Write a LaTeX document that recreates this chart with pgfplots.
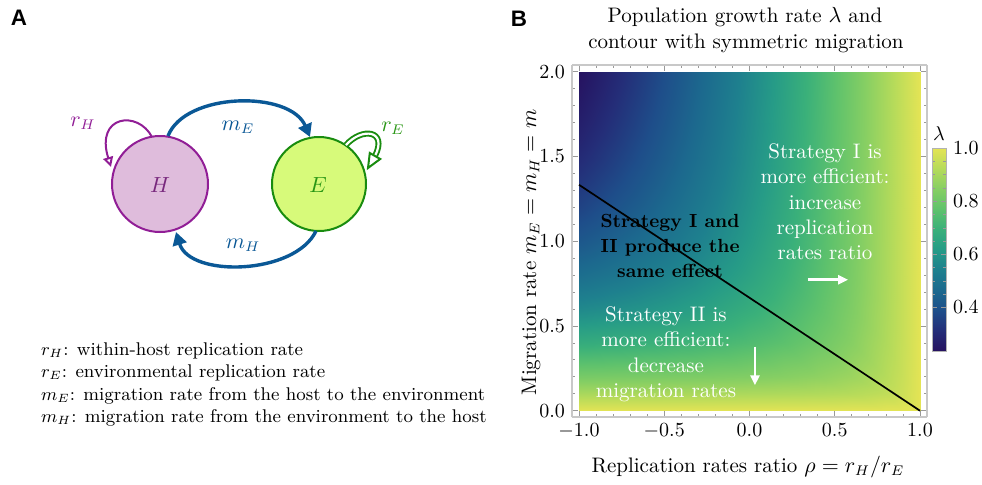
\documentclass[border=0pt]{standalone}
\usepackage{fontspec}
\usepackage{pgfplots}
\pgfplotsset{compat=1.18}
\usetikzlibrary{arrows.meta}
\newfontfamily\arialfont{Liberation Sans}
\definecolor{hfill}{RGB}{223,188,220}
\definecolor{hline}{RGB}{145,30,150}
\definecolor{htext}{RGB}{120,40,125}
\definecolor{efill}{RGB}{215,250,122}
\definecolor{eline}{RGB}{25,140,15}
\definecolor{etext}{RGB}{40,150,20}
\definecolor{arrblue}{RGB}{10,88,150}
\definecolor{framegray}{RGB}{200,200,200}
\pgfplotsset{colormap={mma}{rgb255(0)=(38,18,96) rgb255(10)=(36,45,120) rgb255(20)=(30,78,138) rgb255(30)=(28,105,142) rgb255(40)=(30,128,142) rgb255(50)=(38,155,135) rgb255(60)=(58,176,122) rgb255(70)=(95,194,108) rgb255(80)=(135,207,99) rgb255(90)=(182,219,90) rgb255(100)=(228,228,85)}}

\begin{document}
\begin{tikzpicture}
\useasboundingbox (0,0) rectangle (491pt,-242pt);

% ---------------- Panel B ----------------
\begin{axis}[
  at={(374.75pt,-120.5pt)}, anchor=center,
  scale only axis, width=177.5pt, height=176pt,
  view={0}{90},
  xmin=-1.041, xmax=1.041, ymin=-0.037, ymax=2.04,
  zmin=0, zmax=1.2, ztick=\empty,
  xtick={-1,-0.5,0,0.5,1}, ytick={0,0.5,1,1.5,2},
  minor tick num=4,
  tick align=inside,
  major tick length=3pt, minor tick length=1.5pt,
  axis line style={framegray, line width=0.6pt},
  tick style={gray!80, line width=0.4pt},
  xticklabel style={/pgf/number format/fixed, /pgf/number format/fixed zerofill, /pgf/number format/precision=1},
  yticklabel style={/pgf/number format/fixed, /pgf/number format/fixed zerofill, /pgf/number format/precision=1},
  colormap name=mma,
  point meta min=0.236, point meta max=1,
  colorbar,
  colorbar style={
    at={(parent axis.north east)}, anchor=north west,
    xshift=-6pt, yshift=-41.5pt,
    scale only axis, width=7pt, height=101.5pt,
    ytick={0.4,0.6,0.8,1.0},
    minor y tick num=3,
    yticklabel style={/pgf/number format/fixed, /pgf/number format/fixed zerofill, /pgf/number format/precision=1},
    axis line style={gray!60},
    tick style={gray!80},
    major tick length=2.5pt, minor tick length=1.5pt,
    title={$\lambda$},
    title style={yshift=-6pt},
  },
  clip=false,
]
\addplot3[surf, shader=interp, mesh/cols=12, mesh/rows=12] table {
x y z
-1 0 1
-0.8 0 1
-0.6 0 1
-0.4 0 1
-0.2 0 1
0 0 1
0.2 0 1
0.4 0 1
0.6 0 1
0.8 0 1
0.9 0 1
1 0 1
-1 0.1 0.9050
-0.8 0.1 0.9055
-0.6 0.1 0.9062
-0.4 0.1 0.9071
-0.2 0.1 0.9083
0 0.1 0.9099
0.2 0.1 0.9123
0.4 0.1 0.9162
0.6 0.1 0.9236
0.8 0.1 0.9414
0.9 0.1 0.9618
1 0.1 1
-1 0.2 0.8198
-0.8 0.2 0.8220
-0.6 0.2 0.8246
-0.4 0.2 0.8280
-0.2 0.2 0.8325
0 0.2 0.8385
0.2 0.2 0.8472
0.4 0.2 0.8606
0.6 0.2 0.8828
0.8 0.2 0.9236
0.9 0.2 0.9562
1 0.2 1
-1 0.4 0.6770
-0.8 0.4 0.6849
-0.6 0.4 0.6944
-0.4 0.4 0.7062
-0.2 0.4 0.7211
0 0.4 0.7403
0.2 0.4 0.7657
0.4 0.4 0.8000
0.6 0.4 0.8472
0.8 0.4 0.9123
0.9 0.4 0.9531
1 0.4 1
-1 0.6 0.5662
-0.8 0.6 0.5817
-0.6 0.6 0.6000
-0.4 0.6 0.6220
-0.2 0.6 0.6485
0 0.6 0.6810
0.2 0.6 0.7211
0.4 0.6 0.7708
0.6 0.6 0.8325
0.8 0.6 0.9083
0.9 0.6 0.9521
1 0.6 1
-1 0.8 0.4806
-0.8 0.8 0.5042
-0.6 0.8 0.5314
-0.4 0.8 0.5630
-0.2 0.8 0.6000
0 0.8 0.6434
0.2 0.8 0.6944
0.4 0.8 0.7544
0.6 0.8 0.8246
0.8 0.8 0.9062
0.9 0.8 0.9516
1 0.8 1
-1 1.0 0.4142
-0.8 1.0 0.4454
-0.6 1.0 0.4806
-0.4 1.0 0.5207
-0.2 1.0 0.5662
0 1.0 0.6180
0.2 1.0 0.6770
0.4 1.0 0.7440
0.6 1.0 0.8198
0.8 1.0 0.9050
0.9 1.0 0.9513
1 1.0 1
-1 1.2 0.3620
-0.8 1.2 0.4000
-0.6 1.2 0.4422
-0.4 1.2 0.4892
-0.2 1.2 0.5416
0 1.2 0.6000
0.2 1.2 0.6649
0.4 1.2 0.7369
0.6 1.2 0.8166
0.8 1.2 0.9042
0.9 1.2 0.9510
1 1.2 1
-1 1.4 0.3205
-0.8 1.4 0.3643
-0.6 1.4 0.4125
-0.4 1.4 0.4653
-0.2 1.4 0.5232
0 1.4 0.5866
0.2 1.4 0.6560
0.4 1.4 0.7318
0.6 1.4 0.8142
0.8 1.4 0.9036
0.9 1.4 0.9509
1 1.4 1
-1 1.6 0.2868
-0.8 1.6 0.3358
-0.6 1.6 0.3889
-0.4 1.6 0.4464
-0.2 1.6 0.5088
0 1.6 0.5763
0.2 1.6 0.6492
0.4 1.6 0.7279
0.6 1.6 0.8125
0.8 1.6 0.9031
0.9 1.6 0.9508
1 1.6 1
-1 1.8 0.2591
-0.8 1.8 0.3125
-0.6 1.8 0.3698
-0.4 1.8 0.4313
-0.2 1.8 0.4974
0 1.8 0.5682
0.2 1.8 0.6439
0.4 1.8 0.7248
0.6 1.8 0.8111
0.8 1.8 0.9028
0.9 1.8 0.9507
1 1.8 1
-1 2.0 0.2361
-0.8 2.0 0.2932
-0.6 2.0 0.3541
-0.4 2.0 0.4190
-0.2 2.0 0.4881
0 2.0 0.5616
0.2 2.0 0.6396
0.4 2.0 0.7224
0.6 2.0 0.8100
0.8 2.0 0.9025
0.9 2.0 0.9506
1 2.0 1
};
\addplot3[black, line width=0.85pt] coordinates {(-1,1.3333,1.1) (1,0,1.1)};
\draw[white, line width=1.4pt, -{Triangle[length=5pt,width=4.5pt]}] (axis cs:0.343,0.773,1.1) -- (axis cs:0.578,0.773,1.1);
\draw[white, line width=1.4pt, -{Triangle[length=5pt,width=4.5pt]}] (axis cs:0.032,0.378,1.1) -- (axis cs:0.032,0.150,1.1);
\node[white, align=center, font=\fontsize{10.5}{12.6}\selectfont] at (axis cs:0.443,1.233,1.1) {Strategy I is\\more efficient:\\increase\\replication\\rates ratio};
\node[white, align=center, font=\fontsize{10.5}{12.6}\selectfont] at (axis cs:-0.49,0.333,1.1) {Strategy II is\\more efficient:\\decrease\\migration rates};
\node[black, align=center, font=\bfseries\fontsize{9.5}{12.5}\selectfont] at (axis cs:-0.466,0.973,1.1) {Strategy I and\\II produce the\\same effect};
\end{axis}

\begin{scope}[x=0.5pt,y=-0.5pt]
% panel letters
\node[font=\arialfont\bfseries\fontsize{11.2}{13}\selectfont] at (19,18) {A};
\node[font=\arialfont\bfseries\fontsize{11.2}{13}\selectfont] at (519,19) {B};
% titles and labels of B
\node[anchor=base, font=\fontsize{10.5}{12.6}\selectfont] at (745,22.7) {Population growth rate $\lambda$ and};
\node[anchor=base, font=\fontsize{10.5}{12.6}\selectfont] at (746,48.3) {contour with symmetric migration};
\node[anchor=base, font=\fontsize{10.5}{12.6}\selectfont] at (748,472.5) {Replication rates ratio $\rho=r_H/r_E$};
\node[anchor=base, rotate=90, font=\fontsize{10.5}{12.6}\selectfont] at (536,252.5) {Migration rate $m_E=m_H=m$};

% ---------------- Panel A ----------------
\draw[hline, line width=1pt, fill=hfill] (160,184) circle[radius=24pt];
\draw[eline, line width=1pt, fill=efill] (319,184) circle[radius=23.5pt];
\node[text=htext, font=\fontsize{10.5}{12}\selectfont] at (160,185) {$H$};
\node[text=etext, font=\fontsize{10.5}{12}\selectfont] at (318,185) {$E$};

\draw[arrblue, line width=1.7pt, -{Triangle[length=6.5pt,width=7pt]}] (168,136) .. controls (185,92) and (290,90) .. (310,137);
\draw[arrblue, line width=1.7pt, -{Triangle[length=6.5pt,width=7pt]}] (316,231) .. controls (295,275) and (190,278) .. (176,232);
\node[text=arrblue, font=\fontsize{10.5}{12}\selectfont] at (238,127) {$m_E$};
\node[text=arrblue, font=\fontsize{10.5}{12}\selectfont] at (243,245) {$m_H$};

\draw[hline, line width=1pt, -{Triangle[open, length=5pt, width=5pt]}] (152,137) .. controls (138,110) and (95,115) .. (111,167);
\node[text=hline, font=\fontsize{10.5}{12}\selectfont] at (83,123) {$r_H$};

\draw[eline, line width=3pt] (346,145) .. controls (362,127) and (388,130) .. (375,156);
\draw[white, line width=1.1pt] (346,145) .. controls (362,127) and (388,130) .. (375,156);
\filldraw[fill=white, draw=eline, line width=1pt] (368,168) -- (380.2,159.0) -- (369.8,153.0) -- cycle;
\node[text=etext, font=\fontsize{10.5}{12}\selectfont] at (393,128) {$r_E$};

\node[anchor=base west, font=\fontsize{9.2}{11.25}\selectfont] at (34,355) {$r_H$: within-host replication rate};
\node[anchor=base west, font=\fontsize{9.2}{11.25}\selectfont] at (34,377.5) {$r_E$: environmental replication rate};
\node[anchor=base west, font=\fontsize{9.2}{11.25}\selectfont] at (34,400) {$m_E$: migration rate from the host to the environment};
\node[anchor=base west, font=\fontsize{9.2}{11.25}\selectfont] at (34,422.5) {$m_H$: migration rate from the environment to the host};
\end{scope}
\end{tikzpicture}
\end{document}
